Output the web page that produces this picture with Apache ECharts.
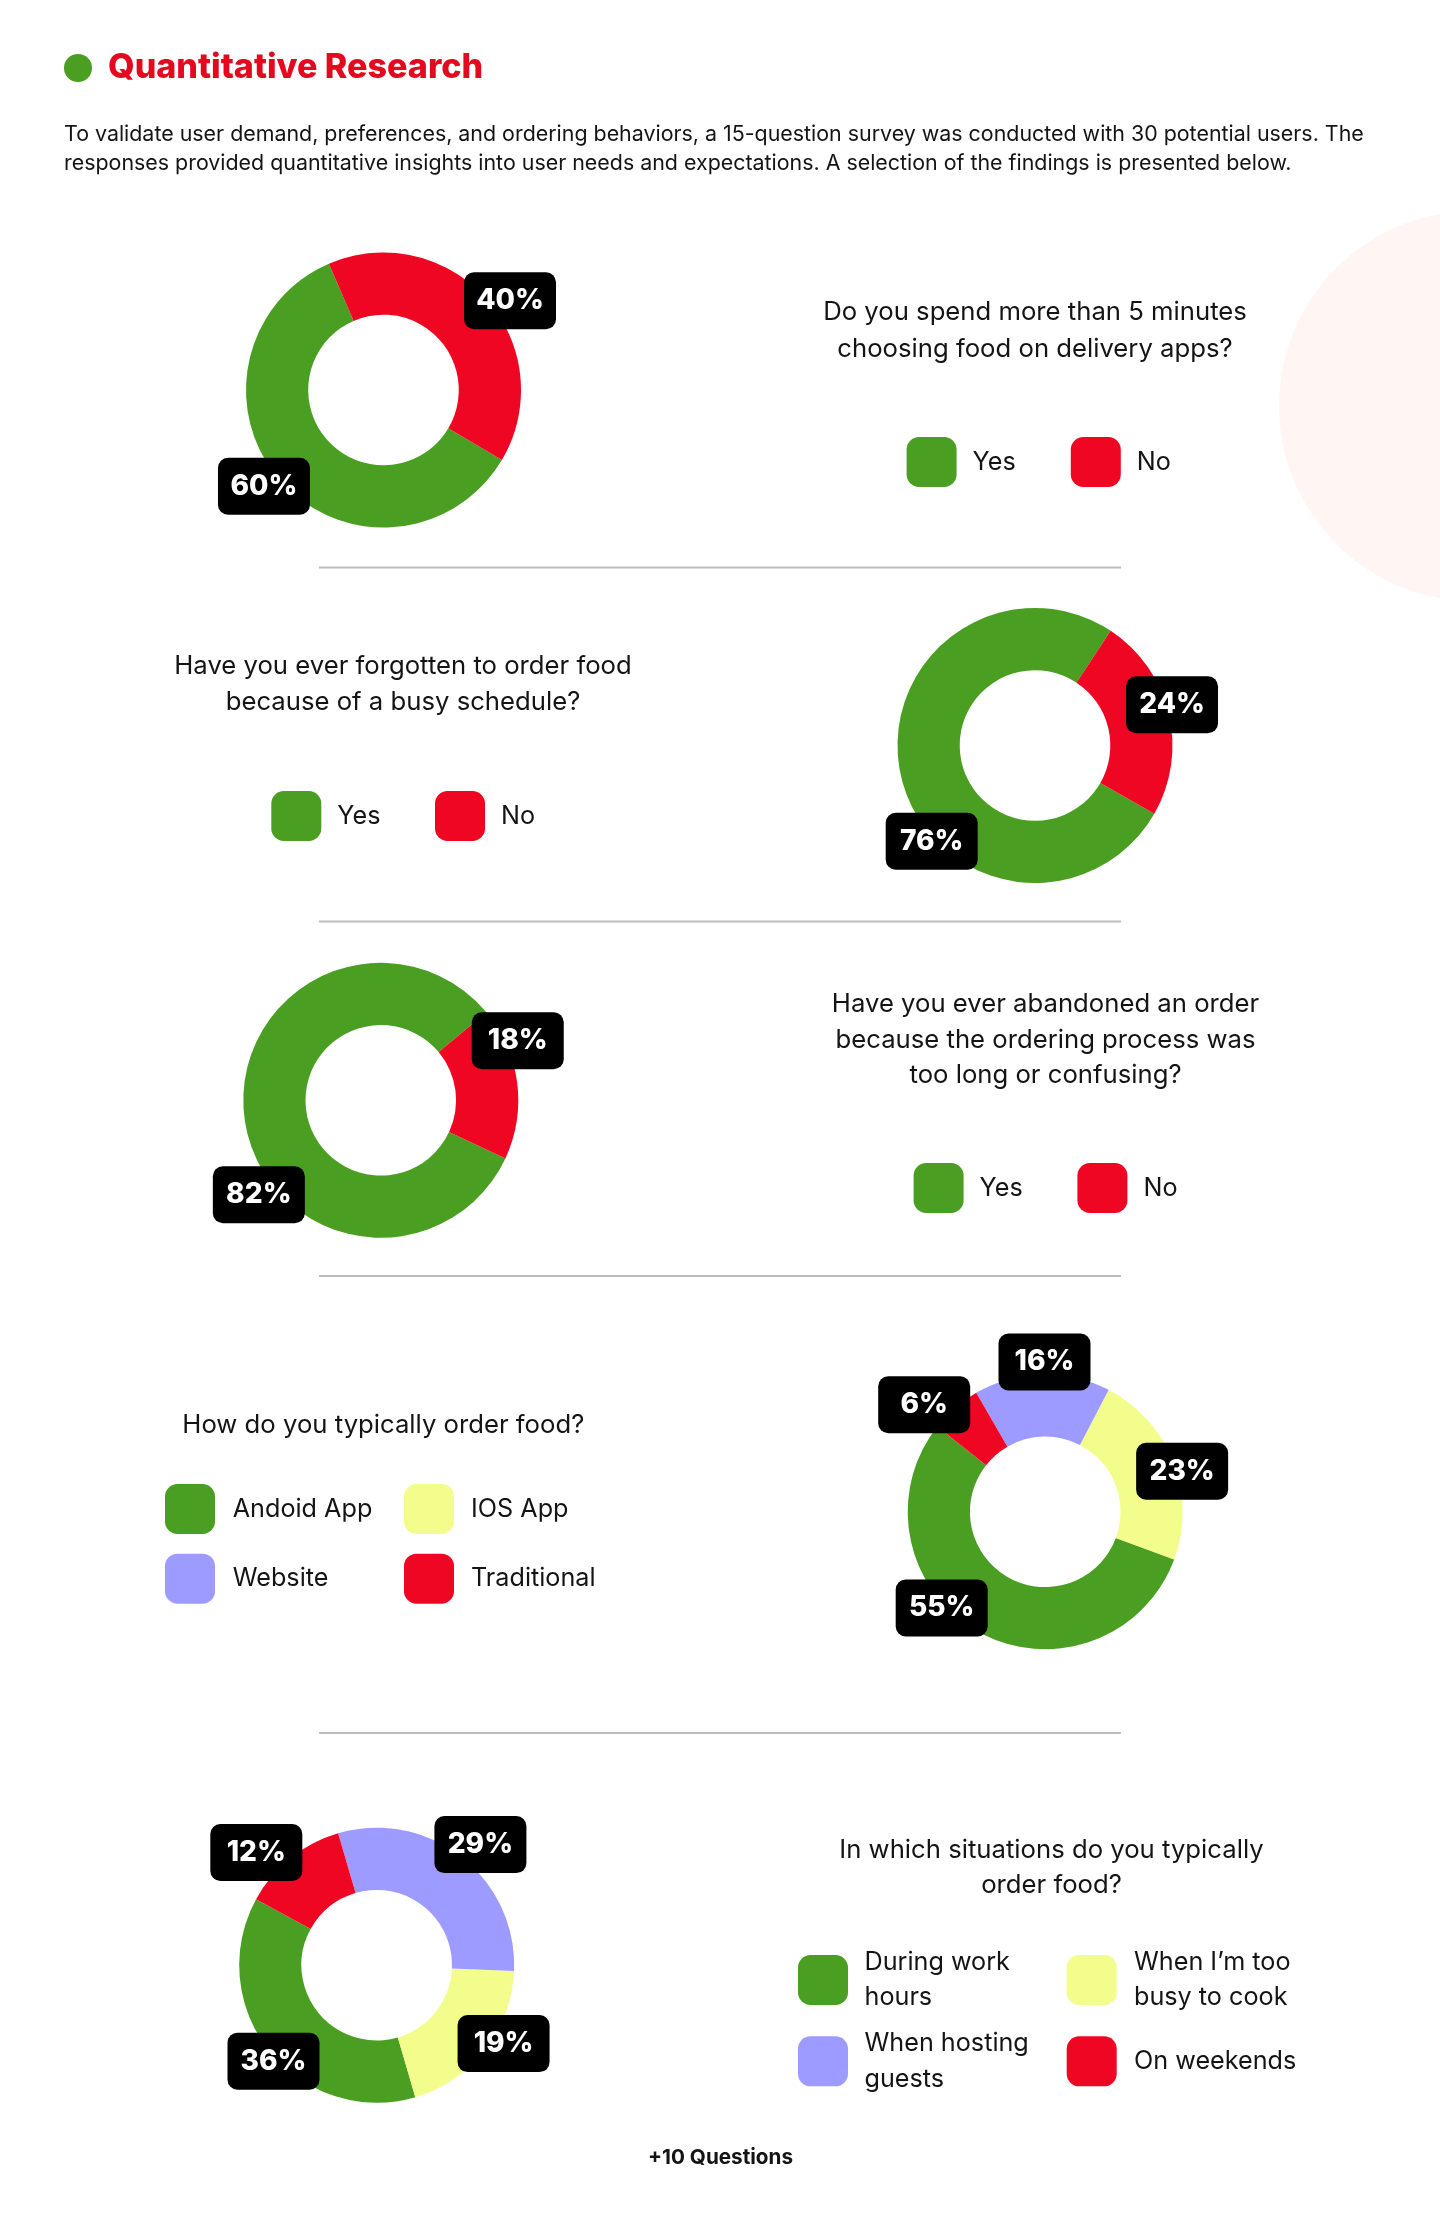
<!DOCTYPE html>
<html>
<head>
<meta charset="utf-8">
<script src="https://cdn.jsdelivr.net/npm/echarts@6/dist/echarts.min.js"></script>
<style>
html,body{margin:0;padding:0;background:#ffffff;}
#chart{width:1440px;height:2234px;}
</style>
</head>
<body>
<div id="chart"></div>
<script>
// ---------------- DATA ----------------
const q1Categories = ['Yes', 'No'];
const q1Values = [60, 40];
const q2Categories = ['Yes', 'No'];
const q2Values = [76, 24];
const q3Categories = ['Yes', 'No'];
const q3Values = [82, 18];
const q4Categories = ['Andoid App', 'IOS App', 'Website', 'Traditional'];
const q4Values = [55, 23, 16, 6];
const q5Categories = ['During work hours', 'When I’m too busy to cook', 'When hosting guests', 'On weekends'];
const q5Values = [36, 19, 29, 12];

const headingText = 'Quantitative Research';
const introLines = [
  'To validate user demand, preferences, and ordering behaviors, a 15-question survey was conducted with 30 potential users. The',
  'responses provided quantitative insights into user needs and expectations. A selection of the findings is presented below.'
];
const questionTexts = [
  ['Do you spend more than 5 minutes', 'choosing food on delivery apps?'],
  ['Have you ever forgotten to order food', 'because of a busy schedule?'],
  ['Have you ever abandoned an order', 'because the ordering process was', 'too long or confusing?'],
  ['How do you typically order food?'],
  ['In which situations do you typically', 'order food?']
];
const footerText = '+10 Questions';

// ---------------- STYLE ----------------
const GREEN = '#4A9E21', RED = '#EE0622', YELLOW = '#F2FD8B', PURPLE = '#9D9BFF';
const TITLE_RED = '#E4091E', INK = '#141414';
const FONT = 'Inter';
const legendDisplay = {
  'During work hours': 'During work\nhours',
  'When I’m too busy to cook': 'When I’m too\nbusy to cook',
  'When hosting guests': 'When hosting\nguests'
};

const mctx = document.createElement('canvas').getContext('2d');
function fitSize(samples, weight) {
  let s = 0;
  samples.forEach(function (p) {
    mctx.font = weight + ' 100px ' + FONT;
    s += p[1] / mctx.measureText(p[0]).width * 100;
  });
  return Math.round(s / samples.length * 10) / 10;
}
const titleSize = fitSize([[headingText, 375]], '800');
const paraSize = fitSize([[introLines[0], 1298], [introLines[1], 1231]], 'normal');
const qSize = fitSize([['Do you spend more than 5 minutes', 430], ['choosing food on delivery apps?', 395.5],
  ['How do you typically order food?', 398], ['In which situations do you typically', 420]], 'normal');
const legSize = fitSize([['Andoid App', 140], ['Traditional', 128], ['On weekends', 162], ['When I’m too', 156.7],
  ['When hosting', 164], ['IOS App', 94], ['Website', 96]], 'normal');
const labSize = fitSize([['24%', 67.3], ['55%', 67.3], ['23%', 63.3], ['16%', 59.3], ['6%', 46.7]], '800');
const footSize = fitSize([[footerText, 145]], 'bold');

const R_IN = 75.3, R_OUT = 137.5;

function donut(cats, vals, colors, center, startAngle, clockwise, offsets) {
  const main = {
    type: 'pie', center: center, radius: [R_IN, R_OUT], startAngle: startAngle, clockwise: clockwise,
    silent: true, animation: false, emphasis: { disabled: true },
    itemStyle: { borderWidth: 0 },
    label: { show: false }, labelLine: { show: false },
    data: cats.map(function (c, i) { return { name: c, value: vals[i], itemStyle: { color: colors[i] } }; })
  };
  const labels = {
    type: 'pie', center: center, radius: [146, 148], startAngle: startAngle, clockwise: clockwise,
    silent: true, animation: false, emphasis: { disabled: true },
    itemStyle: { color: 'rgba(0,0,0,0)', borderWidth: 0 },
    labelLine: { show: false },
    label: {
      show: true, position: 'inside', formatter: '{c}%',
      color: '#ffffff', fontFamily: FONT, fontWeight: 800, fontSize: labSize,
      backgroundColor: '#000000', borderRadius: 10, width: 92, height: 57, lineHeight: 57,
      align: 'center', verticalAlign: 'middle', padding: 0
    },
    labelLayout: function (p) { return { dx: offsets[p.dataIndex][0], dy: offsets[p.dataIndex][1] }; },
    data: cats.map(function (c, i) { return { name: c, value: vals[i] }; })
  };
  return [main, labels];
}

const d1 = donut(q1Categories, q1Values, [GREEN, RED], [383.5, 390], -30.6, true, [[-7, -3], [14, 10]]);
const d2 = donut(q2Categories, q2Values, [GREEN, RED], [1035, 745.5], -29.8, true, [[42.6, 61], [-8.9, -6]]);
const d3 = donut(q3Categories, q3Values, [GREEN, RED], [380.8, 1100.3], -25, true, [[26.8, 75.1], [-11.8, -40.2]]);
const d4 = donut(q4Categories, q4Values, [GREEN, YELLOW, PURPLE, RED], [1045.2, 1511.8], 141.7, false,
  [[-30.1, -34.6], [-3, 13.5], [2.7, 0.2], [-22.8, 6.3]]);
const d5 = donut(q5Categories, q5Values, [GREEN, YELLOW, PURPLE, RED], [376.7, 1965.2], 151.3, false,
  [[13.7, 2], [8.8, -14.1], [11.2, -2.5], [-26.4, 4.2]]);

const series = [d1[0], d2[0], d3[0], d4[0], d5[0], d1[1], d2[1], d3[1], d4[1], d5[1]];

function legendItem(name, left, cy, lines, gap) {
  return {
    data: [name], left: left, top: cy - (lines === 2 ? 35.5 : 25), orient: 'horizontal', padding: 0,
    itemWidth: 50, itemHeight: 50, icon: 'roundRect', selectedMode: false,
    itemStyle: { borderWidth: 0 },
    formatter: function (n) { return legendDisplay[n] || n; },
    textStyle: { fontFamily: FONT, fontSize: legSize, color: INK, lineHeight: 35.5, padding: [0, 0, 0, gap || 11] }
  };
}
const legends = [
  legendItem('Yes', 906.6, 462, 1), legendItem('No', 1070.8, 462, 1),
  legendItem('Yes', 271.3, 816, 1), legendItem('No', 435, 816, 1),
  legendItem('Yes', 913.6, 1188, 1), legendItem('No', 1077.4, 1188, 1),
  legendItem('Andoid App', 165, 1509, 1, 12.7), legendItem('IOS App', 404, 1509, 1, 12),
  legendItem('Website', 165, 1578.7, 1, 12.7), legendItem('Traditional', 404, 1578.7, 1, 12),
  legendItem('During work hours', 798, 1980, 2, 11.5), legendItem('When I’m too busy to cook', 1066.7, 1980, 2, 12.3),
  legendItem('When hosting guests', 798, 2061.3, 2, 11.5), legendItem('On weekends', 1066.7, 2061.3, 1, 12.3)
];

function textEl(text, x, y, size, weight, align, lh, color) {
  return {
    type: 'text', x: x, y: y, silent: true,
    style: {
      text: text, fill: color || INK, fontFamily: FONT, fontSize: size, fontWeight: weight,
      align: align, textAlign: align, verticalAlign: 'middle', textVerticalAlign: 'middle', lineHeight: lh
    }
  };
}
function sep(y) {
  return { type: 'line', silent: true, shape: { x1: 319, y1: y, x2: 1121, y2: y }, style: { stroke: '#BDBDBD', lineWidth: 2 } };
}

const graphics = [
  { type: 'circle', silent: true, z: -1, shape: { cx: 1474, cy: 406, r: 195 }, style: { fill: '#FFF5F3' } },
  { type: 'circle', silent: true, shape: { cx: 78, cy: 68, r: 14 }, style: { fill: GREEN } },
  textEl(introLines.join('\n'), 64, 149.3, paraSize, 'normal', 'left', 29.4),
  sep(567.5), sep(921.5), sep(1276), sep(1733),
  textEl(questionTexts[0].join('\n'), 1035, 330.7, qSize, 'normal', 'center', 36.6),
  textEl(questionTexts[1].join('\n'), 403, 684.4, qSize, 'normal', 'center', 35.6),
  textEl(questionTexts[2].join('\n'), 1045.5, 1039.8, qSize, 'normal', 'center', 35.7),
  textEl(questionTexts[3].join('\n'), 383.3, 1425.5, qSize, 'normal', 'center', 35.6),
  textEl(questionTexts[4].join('\n'), 1051.5, 1867.7, qSize, 'normal', 'center', 35.5),
  textEl(footerText, 720.5, 2158, footSize, 'bold', 'center', 30)
];

const chart = echarts.init(document.getElementById('chart'), null, { renderer: 'canvas' });
chart.setOption({
  backgroundColor: '#ffffff',
  animation: false,
  title: {
    text: headingText, left: 108, top: 48, padding: 0,
    textStyle: { color: TITLE_RED, fontFamily: FONT, fontWeight: 800, fontSize: titleSize, lineHeight: 40 }
  },
  legend: legends,
  series: series,
  graphic: graphics
});
</script>
</body>
</html>
